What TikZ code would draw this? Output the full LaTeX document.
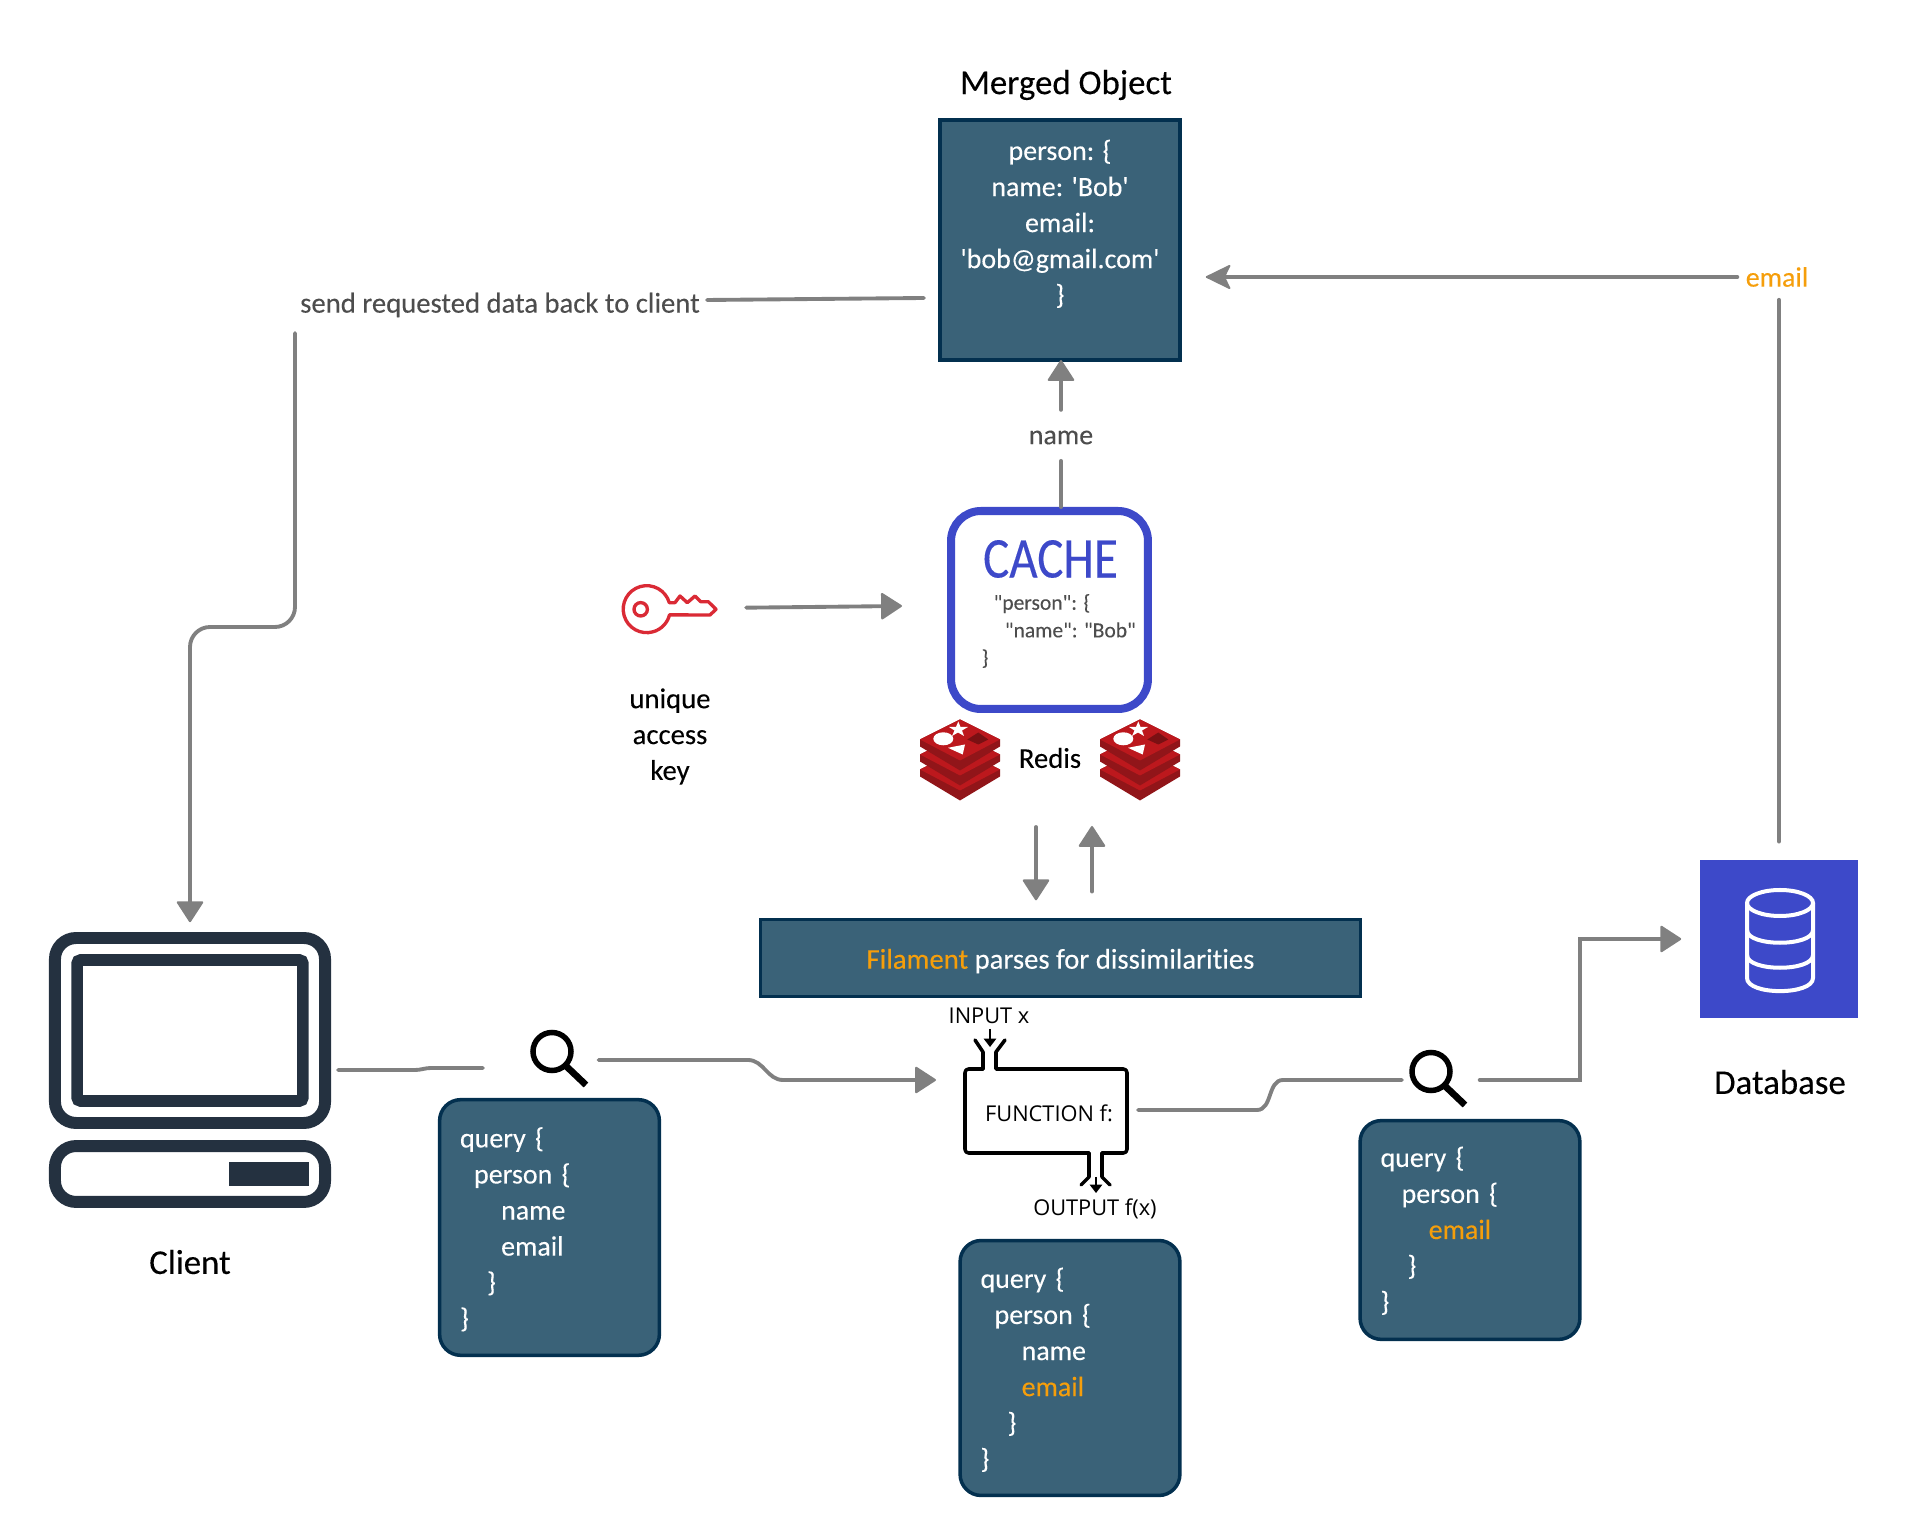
\documentclass[tikz,border=0pt]{standalone}
\usepackage{fontspec}
\setmainfont{Carlito}[Ligatures={TeXOff,NoCommon},FakeBold=.2]
\newfontfamily\funcfont{Open Sans}
\usetikzlibrary{arrows.meta}
\definecolor{panelfill}{HTML}{3A6278}
\definecolor{paneledge}{HTML}{03304F}
\definecolor{wiregrey}{HTML}{808080}
\definecolor{labelgrey}{HTML}{4D4D4D}
\definecolor{cacheblue}{HTML}{3D49C9}
\definecolor{hiorange}{HTML}{F59E0B}
\definecolor{clientdark}{HTML}{243140}
\definecolor{keyred}{HTML}{DA2A35}
\definecolor{redisface}{HTML}{BC181D}
\definecolor{redisside}{HTML}{911519}
\definecolor{redisdark}{HTML}{7A1013}
\newcommand{\bodyfont}{\fontsize{7.95pt}{10.25pt}\selectfont}
\newcommand{\labelfont}{\fontsize{8.15pt}{10.2pt}\selectfont}
\newcommand{\titlefont}{\fontsize{9.9pt}{12pt}\selectfont}
\newcommand{\jsonfont}{\fontsize{6.13pt}{7.85pt}\selectfont}
\newcommand{\hi}[1]{\textcolor{hiorange}{#1}}
\begin{document}
\begin{tikzpicture}[x=0.01cm,y=-0.01cm,font=\bodyfont,
  every node/.style={inner sep=0pt},
  wire/.style={draw=wiregrey,line width=1.1pt,line cap=round},
  flow/.style={wire,-{Triangle[length=6.2pt,width=7.9pt,line width=.6pt,round]}},
  flowback/.style={wire,-{Stealth[length=7.6pt,width=7.4pt,inset=1.8pt,line width=.5pt,round]}},
  panel/.style={draw=paneledge,fill=panelfill,line width=1pt,text=white},
  querybox/.style={panel,rounded corners=6pt,align=left,inner xsep=5.8pt,text width=50.9pt,minimum width=62.5pt},
  iconbox/.style={minimum width=16.5pt,minimum height=16.5pt},
  fnote/.style={font=\funcfont\fontsize{6.2pt}{7.4pt}\selectfont},
  fpipe/.style={draw=black,line width=1pt,line cap=round,line join=round},
  fdrop/.style={draw=black,line width=.3pt,-{Triangle[length=2.4pt,width=3.6pt]}},
  magnifier/.pic={
    \draw[line width=1.56pt] (-7,-8.5) circle[radius=19];
    \draw[line width=1.9pt] (6.5,5.5) -- (27,25);
  },
  rediscube/.pic={
    \foreach \o in {30,15,0} {
      \fill[redisside] (-40,-20+\o) -- (0,-40+\o) -- (40,-20+\o) -- (40,-13+\o) -- (0,11+\o) -- (-40,-13+\o) -- cycle;
      \fill[redisface] (-40,-20+\o) -- (0,-40+\o) -- (40,-20+\o) -- (0,1+\o) -- cycle;
    }
    \fill[white] (-1.7,-38) -- (0.5,-32.5) -- (8,-32.5) -- (2,-29) -- (4,-23.5) -- (-2,-27) -- (-8,-23.5) -- (-5.5,-29) -- (-11,-32.5) -- (-4,-32.5) -- cycle;
    \fill[white] (-16.7,-20.7) ellipse[x radius=10,y radius=6.5];
    \fill[white] (-12,-11.7) -- (5,-15) -- (2.7,-5) -- cycle;
    \fill[redisdark] (18.3,-27) -- (28.3,-20) -- (18.3,-15) -- (7.3,-20) -- cycle;
  }]
 \useasboundingbox (0,0) rectangle (1920,1537);

 % Merged object
 \node (mergedTitle) at (1066,85) {\titlefont Merged Object};
 \node[panel,minimum width=68.3pt,minimum height=68.3pt,align=center] (merged) at (1060,240)
  {person: \{\\name: 'Bob'\\email:\\'bob@gmail.com'\\\}\\\mbox{}};

 % Cache and its key
 \node[draw=cacheblue,line width=2.28pt,rounded corners=8.5pt,minimum width=56pt,minimum height=56.3pt] (cache) at (1049.5,610) {};
 \node[text=cacheblue,font=\fontsize{16.4pt}{18pt}\selectfont] (cacheTitle) at (1050.5,559) {\scalebox{.85}[1]{CACHE}};
 \node[anchor=west,align=left,text=labelgrey,font=\jsonfont] (cacheJson) at (981,631)
  {\hspace*{3.4pt}"person": \{\\\hspace*{6.6pt}"name": "Bob"\\\}};
 \node[minimum width=26.5pt,minimum height=14pt] (keyicon) at (670,608) {};
 \draw[keyred,line width=.95pt,line join=round] (669.3,602.7) arc[start angle=-16,end angle=-346,radius=23.5]
  -- (710,615) -- (716,609.3) -- (708.3,601.7) -- (700.7,601.7) -- (695,596) -- (687.3,602.7) -- (680,596) -- (675,602.7) -- cycle;
 \draw[keyred,line width=.95pt] (640.7,609.3) circle[radius=6.7];
 \node[align=center,font=\labelfont] (keyLbl) at (670,736.5) {unique\\access\\key};

 % Redis
 \pic at (960,759.5) {rediscube};
 \pic at (1140,759.5) {rediscube};
 \node[font=\labelfont] (redisLbl) at (1050,758) {Redis};
 \coordinate (redisDown) at (1036,827);
 \coordinate (redisUp) at (1092,826);

 % Filament
 \node[panel,minimum width=170.6pt,minimum height=21.8pt,font=\labelfont] (parser) at (1060.5,958)
  {\rule{0pt}{7.4pt}\hi{Filament} parses for dissimilarities};

 % Client
 \node[draw=clientdark,line width=3.4pt,rounded corners=6pt,minimum width=76.8pt,minimum height=52.6pt] (client) at (190,1030.5) {};
 \node[draw=clientdark,line width=3.3pt,rounded corners=1pt,minimum width=64.2pt,minimum height=40.1pt] (screen) at (190,1030.5) {};
 \node[draw=clientdark,line width=3.4pt,rounded corners=6pt,minimum width=76.8pt,minimum height=15.9pt] (clientBase) at (190,1174) {};
 \node[fill=clientdark,minimum width=22.6pt,minimum height=6.8pt] (clientKey) at (268.8,1174) {};
 \node[font=\titlefont] (clientLbl) at (190,1262) {Client};

 % Query boxes
 \node[iconbox] (searchA) at (559,1060) {};
 \pic at (searchA) {magnifier};
 \node[querybox,minimum height=72.7pt] (queryA) at (549.5,1227.5)
  {\rule{0pt}{6.8pt}query \{\\\hspace*{4pt}person \{\\\hspace*{11.7pt}name\\\hspace*{11.7pt}email\\\hspace*{7.7pt}\}\\\}};
 \node[querybox,minimum height=72.5pt] (queryB) at (1070,1368)
  {\rule{0pt}{6.8pt}query \{\\\hspace*{4pt}person \{\\\hspace*{11.7pt}name\\\hspace*{11.7pt}\hi{email}\\\hspace*{7.7pt}\}\\\}};
 \node[iconbox] (searchB) at (1438,1080) {};
 \pic at (searchB) {magnifier};
 \node[querybox,minimum height=62.2pt] (queryC) at (1470,1230)
  {\rule{0pt}{6.2pt}query \{\\\hspace*{6pt}person \{\\\hspace*{13.7pt}\hi{email}\\\hspace*{7.7pt}\}\\\}};

 % Function block
 \node[fnote] (func) at (1049,1113) {FUNCTION f:};
 \node[fnote] (inputLbl) at (989,1016) {INPUT x};
 \node[fnote] (outputLbl) at (1095,1209) {OUTPUT f(x)};
 \draw[fpipe,rounded corners=1pt] (983,1069) -- (965,1069) -- (965,1153) -- (1089,1153);
 \draw[fpipe,rounded corners=1pt] (996,1069) -- (1127,1069) -- (1127,1153) -- (1102,1153);
 \draw[fpipe] (975,1040) -- (983,1052) -- (983,1069);
 \draw[fpipe] (1005,1040) -- (996,1052) -- (996,1069);
 \draw[fpipe] (1089,1153) -- (1089,1177) -- (1081,1185);
 \draw[fpipe] (1102,1153) -- (1102,1177) -- (1110,1185);
 \coordinate (inputEnd) at (990,1047);
 \coordinate (outputStart) at (1096,1177);
 \coordinate (outputEnd) at (1096,1193);
 \draw[fdrop,shorten <=1.2pt] (inputLbl.south -| inputEnd) -- (inputEnd);
 \draw[fdrop] (outputStart) -- (outputEnd);

 % Database
 \node[fill=cacheblue,minimum width=45pt,minimum height=45pt] (db) at (1779,939) {};
 \draw[white,line width=1.14pt] (1780,903) ellipse[x radius=33,y radius=13];
 \draw[white,line width=1.14pt] (1747,903) -- (1747,978) .. controls (1747,995.5) and (1813,995.5) .. (1813,978) -- (1813,903);
 \draw[white,line width=1.14pt] (1747,930) .. controls (1747,947) and (1813,947) .. (1813,930);
 \draw[white,line width=1.14pt] (1747,955) .. controls (1747,972) and (1813,972) .. (1813,955);
 \node[font=\titlefont] (dbLbl) at (1780,1082) {Database};

 % Labels on the connectors
 \node[text=labelgrey,font=\labelfont] (sendLbl) at (500,305) {send requested data back to client};
 \node[text=labelgrey] (nameLbl) at (1061,437.5) {name};
 \node[text=hiorange] (emailLbl) at (1777,277) {email};

 % Connectors
 \coordinate (sendIn) at (924,298);
 \coordinate (sendOut) at (707,300);
 \coordinate (sendDown) at (295,333);
 \draw[wire] (sendIn) -- (sendOut);
 \draw[flow,rounded corners=5.7pt,shorten >=2.8pt] (sendDown) -- (295,627) -- (190,627) -- (client.north);
 \draw[flow,shorten <=5.7pt,shorten >=-.5pt] (nameLbl.north) -- (nameLbl.north |- merged.south);
 \draw[wire,shorten <=4.5pt] (nameLbl.south) -- (nameLbl.south |- cache.north);
 \draw[flowback,shorten <=2.2pt,shorten >=6.8pt] (emailLbl.west) -- (emailLbl.west -| merged.east);
 \draw[wire,shorten <=5pt,shorten >=3.5pt] (db.north) -- (emailLbl.south -| db.north);
 \coordinate (cacheIn) at (902,606);
 \draw[flow,shorten <=8.2pt] (keyicon.east) -- (cacheIn);
 \draw[flow,shorten >=5pt] (redisDown) -- (redisDown |- parser.north);
 \draw[flow,shorten <=7.5pt] (redisUp |- parser.north) -- (redisUp);
 \coordinate (clientOut) at (338,1070);
 \coordinate (searchAIn) at (483,1068);
 \draw[wire] (clientOut) -- (415,1070) to[out=0,in=180] (431,1068) -- (searchAIn);
 \coordinate (funcIn) at (936,1080);
 \draw[flow,shorten <=2.8pt] (searchA.east) -- (748,1060) to[out=0,in=180] (783,1080) -- (funcIn);
 \coordinate (funcOut) at (1138,1110);
 \coordinate (searchBIn) at (1402,1080);
 \draw[wire] (funcOut) -- (1257,1110) to[out=0,in=180] (1283,1080) -- (searchBIn);
 \draw[flow,shorten <=3.4pt,shorten >=5.1pt] (searchB.east) -- (1580,1080) -- (1580,939) -- (db.west);
\end{tikzpicture}
\end{document}
